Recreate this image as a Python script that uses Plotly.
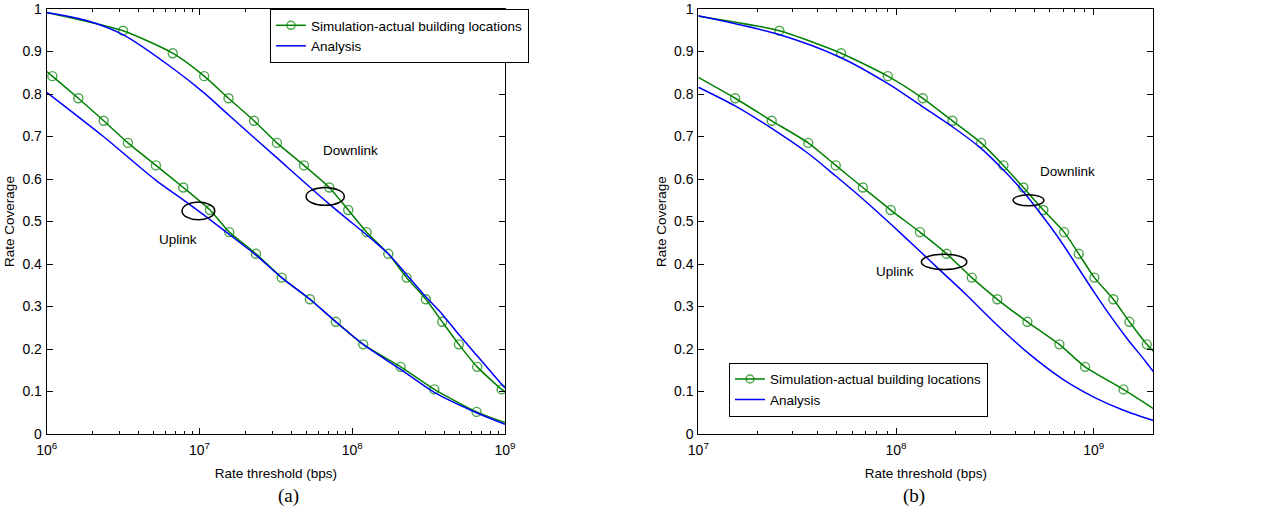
import plotly.graph_objects as go
from plotly.subplots import make_subplots

# ---------------- panel (a): 1 Mbps .. 1 Gbps ----------------
a_dl_sim_rate = [1.0e6, 3.162e6, 6.683e6, 1.074e7, 1.549e7, 2.275e7, 3.214e7, 4.831e7, 7.079e7,
                 9.419e7, 1.242e8, 1.722e8, 2.270e8, 3.034e8, 3.882e8, 4.989e8, 6.577e8, 9.506e8, 1.0e9]
a_dl_sim_cov = [0.992, 0.949, 0.896, 0.842, 0.790, 0.737, 0.685, 0.632, 0.580,
                0.527, 0.475, 0.424, 0.368, 0.317, 0.264, 0.211, 0.158, 0.105, 0.100]

a_ul_sim_rate = [1.0e6, 1.089e6, 1.611e6, 2.360e6, 3.404e6, 5.188e6, 7.834e6, 1.172e7, 1.567e7,
                 2.344e7, 3.451e7, 5.284e7, 7.816e7, 1.180e8, 2.075e8, 3.443e8, 6.516e8, 1.0e9]
a_ul_sim_cov = [0.853, 0.842, 0.790, 0.737, 0.685, 0.632, 0.580, 0.527, 0.475,
                0.424, 0.368, 0.317, 0.264, 0.211, 0.158, 0.105, 0.052, 0.027]

a_dl_ana_rate = [1.0e6, 1.778e6, 3.177e6, 6.714e6, 1.076e7, 1.560e7, 3.162e7, 7.079e7, 1.368e8,
                 1.722e8, 2.270e8, 2.924e8, 3.882e8, 4.989e8, 6.577e8, 9.506e8, 1.0e9]
a_dl_ana_cov = [0.992, 0.974, 0.939, 0.860, 0.802, 0.750, 0.652, 0.541, 0.456,
                0.424, 0.375, 0.329, 0.282, 0.234, 0.184, 0.117, 0.108]

a_ul_ana_rate = [1.0e6, 2.350e6, 5.140e6, 7.834e6, 1.072e7, 1.560e7, 2.344e7, 3.451e7, 5.284e7,
                 7.816e7, 1.180e8, 2.075e8, 3.443e8, 6.516e8, 1.0e9]
a_ul_ana_cov = [0.804, 0.700, 0.598, 0.551, 0.515, 0.470, 0.421, 0.368, 0.317,
                0.264, 0.211, 0.152, 0.098, 0.050, 0.023]

# ---------------- panel (b): 10 Mbps .. 2 Gbps ----------------
b_dl_sim_rate = [1.0e7, 2.570e7, 5.272e7, 9.078e7, 1.365e8, 1.928e8, 2.692e8, 3.491e8, 4.406e8,
                 5.559e8, 7.079e8, 8.395e8, 1.007e9, 1.256e9, 1.514e9, 1.854e9, 2.0e9]
b_dl_sim_cov = [0.983, 0.949, 0.896, 0.842, 0.790, 0.737, 0.685, 0.632, 0.580,
                0.527, 0.475, 0.424, 0.368, 0.317, 0.264, 0.211, 0.195]

b_ul_sim_rate = [1.0e7, 1.535e7, 2.350e7, 3.597e7, 4.955e7, 6.792e7, 9.397e7, 1.321e8, 1.803e8,
                 2.415e8, 3.251e8, 4.613e8, 6.699e8, 9.036e8, 1.413e9, 2.0e9]
b_ul_sim_cov = [0.839, 0.790, 0.737, 0.685, 0.632, 0.580, 0.527, 0.475, 0.424,
                0.368, 0.317, 0.264, 0.211, 0.158, 0.105, 0.060]

b_dl_ana_rate = [1.0e7, 2.559e7, 5.236e7, 9.057e7, 1.365e8, 1.928e8, 2.692e8, 3.491e8, 4.406e8,
                 5.559e8, 6.761e8, 7.482e8, 1.0e9, 1.239e9, 1.489e9, 1.820e9, 2.0e9]
b_dl_ana_cov = [0.984, 0.940, 0.886, 0.825, 0.770, 0.723, 0.672, 0.621, 0.570,
                0.510, 0.456, 0.425, 0.335, 0.272, 0.222, 0.172, 0.147]

b_ul_ana_rate = [1.0e7, 1.535e7, 2.350e7, 3.597e7, 4.955e7, 6.792e7, 9.397e7, 1.321e8, 1.648e8,
                 2.239e8, 3.251e8, 4.613e8, 7.015e8, 1.0e9, 1.413e9, 2.0e9]
b_ul_ana_cov = [0.816, 0.772, 0.719, 0.660, 0.607, 0.553, 0.494, 0.430, 0.388,
                0.330, 0.256, 0.192, 0.128, 0.087, 0.056, 0.032]

y_ticks = [0, 0.1, 0.2, 0.3, 0.4, 0.5, 0.6, 0.7, 0.8, 0.9, 1]
a_major = [1e6, 1e7, 1e8, 1e9]
a_major_text = ["10<sup>6</sup>", "10<sup>7</sup>", "10<sup>8</sup>", "10<sup>9</sup>"]
b_major = [1e7, 1e8, 1e9]
b_major_text = ["10<sup>7</sup>", "10<sup>8</sup>", "10<sup>9</sup>"]

SIM_NAME = "Simulation-actual building locations"
ANA_NAME = "Analysis"
GREEN = "rgb(0,128,0)"
BLUE = "rgb(0,0,255)"
FONT = "Liberation Sans, Arial, sans-serif"
FS = 13.5
TICK_FS = 14

A_RANGE = [6, 9]
B_RANGE = [7, 9.30103]

fig = make_subplots(rows=1, cols=2)


def sim_trace(x, y, col, legend, show):
    # endpoints of the measured curve carry no circle marker
    sizes = [0] + [9] * (len(x) - 2) + [0]
    fig.add_trace(go.Scatter(
        x=x, y=y, mode="lines+markers", name=SIM_NAME, legend=legend, showlegend=show,
        line=dict(color=GREEN, width=1.5, shape="spline", smoothing=0.6),
        marker=dict(symbol="circle-open", size=sizes, color=GREEN, line=dict(width=1.4, color=GREEN)),
    ), row=1, col=col)


def ana_trace(x, y, col, legend, show):
    fig.add_trace(go.Scatter(
        x=x, y=y, mode="lines", name=ANA_NAME, legend=legend, showlegend=show,
        line=dict(color=BLUE, width=1.5, shape="spline", smoothing=0.8),
    ), row=1, col=col)


sim_trace(a_dl_sim_rate, a_dl_sim_cov, 1, "legend", True)
sim_trace(a_ul_sim_rate, a_ul_sim_cov, 1, "legend", False)
ana_trace(a_dl_ana_rate, a_dl_ana_cov, 1, "legend", True)
ana_trace(a_ul_ana_rate, a_ul_ana_cov, 1, "legend", False)

sim_trace(b_dl_sim_rate, b_dl_sim_cov, 2, "legend2", True)
sim_trace(b_ul_sim_rate, b_ul_sim_cov, 2, "legend2", False)
ana_trace(b_dl_ana_rate, b_dl_ana_cov, 2, "legend2", True)
ana_trace(b_ul_ana_rate, b_ul_ana_cov, 2, "legend2", False)


def minor_vals(lo_exp, hi_val):
    vals = []
    e = lo_exp
    while 10 ** e < hi_val:
        for m in range(2, 10):
            v = m * 10 ** e
            if v <= hi_val:
                vals.append(v)
        e += 1
    return vals


axis_common = dict(
    showline=True, linecolor="black", linewidth=1, mirror="ticks",
    ticks="inside", ticklen=6, tickcolor="black", tickwidth=1,
    showgrid=False, zeroline=False,
    tickfont=dict(family=FONT, size=TICK_FS, color="black"),
    automargin=False,
)

fig.update_xaxes(type="log", ticklabelstandoff=3, **axis_common)
fig.update_yaxes(range=[0, 1], tickvals=y_ticks, ticklabelstandoff=1, **axis_common)

fig.update_xaxes(
    domain=[0.0364, 0.3936], range=A_RANGE,
    tickvals=a_major, ticktext=a_major_text,
    minor=dict(tickvals=minor_vals(6, 1e9), ticks="inside", ticklen=3, tickcolor="black"),
    title=dict(text="Rate threshold (bps)", font=dict(family=FONT, size=FS, color="black"), standoff=11),
    row=1, col=1)
fig.update_xaxes(
    domain=[0.5443, 0.8989], range=B_RANGE,
    tickvals=b_major, ticktext=b_major_text,
    minor=dict(tickvals=minor_vals(7, 2e9), ticks="inside", ticklen=3, tickcolor="black"),
    title=dict(text="Rate threshold (bps)", font=dict(family=FONT, size=FS, color="black"), standoff=11),
    row=1, col=2)
for c in (1, 2):
    fig.update_yaxes(
        domain=[0.1523, 0.9824],
        title=dict(text="Rate Coverage", font=dict(family=FONT, size=FS, color="black"), standoff=4),
        row=1, col=c)

# ellipses grouping each simulated / analytical curve pair
# (centre as log10 rate and coverage, half-widths in decades and coverage units)
ellipses = [
    (1, A_RANGE, 6.993, 0.525, 0.107, 0.021),
    (1, A_RANGE, 7.823, 0.559, 0.125, 0.021),
    (2, B_RANGE, 8.670, 0.550, 0.078, 0.013),
    (2, B_RANGE, 8.243, 0.405, 0.115, 0.018),
]
for idx, rng, cx, cy, rx, ry in ellipses:
    sfx = "" if idx == 1 else str(idx)
    span = rng[1] - rng[0]
    fig.add_shape(type="circle", xref=f"x{sfx} domain", yref=f"y{sfx} domain",
                  x0=(cx - rx - rng[0]) / span, x1=(cx + rx - rng[0]) / span,
                  y0=cy - ry, y1=cy + ry,
                  line=dict(color="black", width=1.5))

labels = [
    ("x", "y", 7.989, 0.668, "Downlink"),
    ("x", "y", 6.862, 0.458, "Uplink"),
    ("x2", "y2", 8.869, 0.617, "Downlink"),
    ("x2", "y2", 7.995, 0.382, "Uplink"),
]
for xr, yr, lx, ly, txt in labels:
    fig.add_annotation(xref=xr, yref=yr, x=lx, y=ly, text=txt, showarrow=False,
                       font=dict(family=FONT, size=FS, color="black"))

for px, txt in ((0.2151, "(a)"), (0.7223, "(b)")):
    fig.add_annotation(xref="paper", yref="paper", x=px, y=0.031, yanchor="middle", text=txt,
                       showarrow=False,
                       font=dict(family="Liberation Serif, Times New Roman, serif", size=19, color="black"))

legend_style = dict(
    bgcolor="white", bordercolor="black", borderwidth=1,
    font=dict(family=FONT, size=FS, color="black"),
    xanchor="left", yanchor="top", tracegroupgap=0, itemwidth=30,
)
fig.update_layout(
    width=1283, height=512,
    margin=dict(l=0, r=0, t=0, b=0),
    paper_bgcolor="white", plot_bgcolor="white",
    legend=dict(x=0.2104, y=0.9824, **legend_style),
    legend2=dict(x=0.5682, y=0.2916, **legend_style),
)

fig.write_html("out.html")
